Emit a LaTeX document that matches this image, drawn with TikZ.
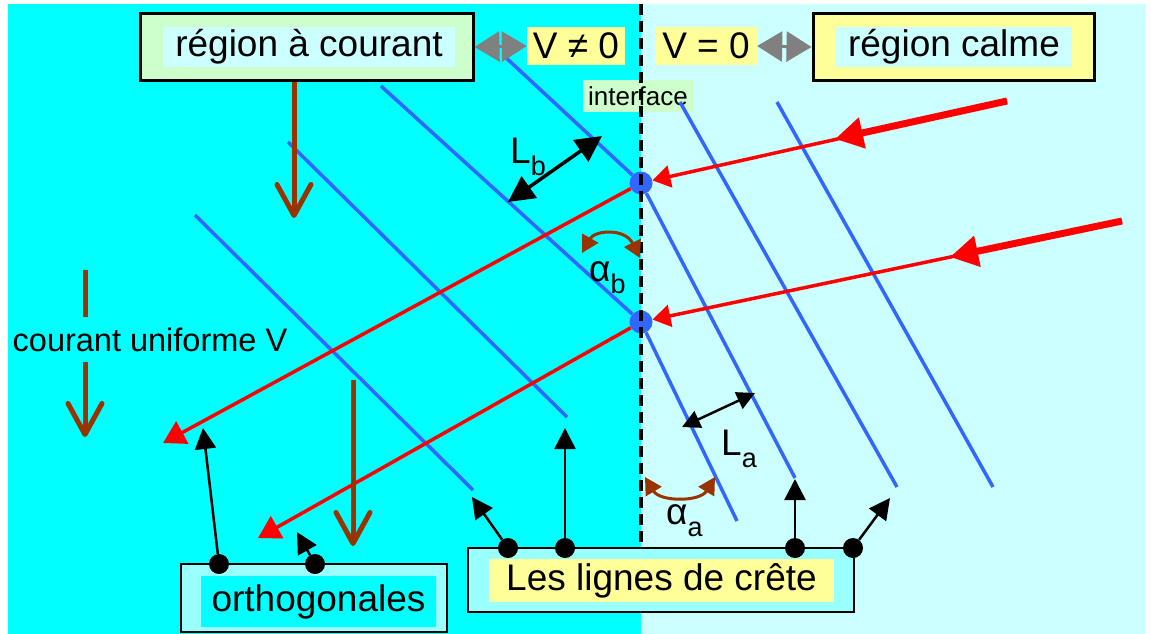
\documentclass[tikz,border=0pt]{standalone}
\usepackage{fontspec}
\setmainfont{Liberation Sans}
\usetikzlibrary{arrows.meta}
\definecolor{flowcyan}{RGB}{0,255,255}
\definecolor{calmcyan}{RGB}{204,255,255}
\definecolor{boxcyan}{RGB}{153,255,255}
\definecolor{palegreen}{RGB}{204,255,204}
\definecolor{paleyellow}{RGB}{255,255,153}
\definecolor{crestblue}{RGB}{51,102,255}
\definecolor{rayred}{RGB}{255,0,0}
\definecolor{flowbrown}{RGB}{153,51,0}
\definecolor{gapgray}{RGB}{128,128,128}
\newcommand{\subidx}[1]{\raisebox{-12pt}{\fontsize{27}{27}\selectfont #1}}

\begin{document}
\begin{tikzpicture}[x=1pt, y=-1pt,
  txt/.style={inner sep=0pt, font=\fontsize{37}{40}\selectfont},
  frame/.style={draw, line width=3pt, inner sep=0pt, minimum height=66pt},
  tag/.style={txt, minimum height=40pt},
  lowbox/.style={draw, line width=2pt, fill=boxcyan, inner sep=0pt},
  crest/.style={crestblue, line width=3.5pt},
  ray/.style={rayred, line width=3.5pt, -{Triangle[length=22pt,width=25pt]}},
  rayin/.style={rayred, line width=3.5pt, -{Triangle[length=18pt,width=22pt]}},
  raytail/.style={rayred, line width=7pt, -{Triangle[length=28pt,width=30pt]}},
  flowline/.style={flowbrown, line width=5pt},
  flow/.style={flowline, -{Straight Barb[length=31pt,width=34pt,round]}},
  arcarrow/.style={flowbrown, line width=3pt,
                   {Triangle[length=17pt,width=18pt]}-{Triangle[length=17pt,width=18pt]}},
  link/.style={line width=2.5pt, -{Triangle[length=21pt,width=21pt]}},
  span/.style={line width=3.5pt, {Triangle[length=26pt,width=26pt]}-{Triangle[length=26pt,width=26pt]}},
  spansmall/.style={line width=2.5pt, {Triangle[length=18pt,width=18pt]}-{Triangle[length=18pt,width=18pt]}},
  gap/.style={gapgray, line width=3pt, {Triangle[length=25pt,width=30pt]}-{Triangle[length=25pt,width=30pt]}},
  dot/.style={circle, fill=black, minimum size=20pt, inner sep=0pt},
  bluedot/.style={circle, fill=crestblue, minimum size=23pt, inner sep=0pt}]

\useasboundingbox (0,0) rectangle (1151,634);
\fill[white] (0,0) rectangle (1151,634);
\fill[flowcyan] (8,4) rectangle (641,634);
\fill[calmcyan] (641,4) rectangle (1146,634);

\node[fill=palegreen, inner sep=0pt, minimum width=110pt, minimum height=32pt,
      font=\fontsize{26}{28}\selectfont] (iface) at (638,96) {interface};

\node[bluedot] (pa) at (641,183) {};
\node[bluedot] (pb) at (641,322) {};

\coordinate (itop) at (641,4);
\coordinate (ibot) at (641,548);
\draw[line width=4.5pt, dash pattern=on 11pt off 6pt] (itop) -- (ibot);

% crest lines
\coordinate (c0) at (503,55);
\coordinate (c1) at (381,86);
\coordinate (c2a) at (288,142);
\coordinate (c2b) at (567,417);
\coordinate (c3a) at (195,215);
\coordinate (c3b) at (473,490);
\coordinate (ra) at (737,521);
\coordinate (rb) at (795,478);
\coordinate (rca) at (680,102);
\coordinate (rcb) at (897,487);
\coordinate (rda) at (777,102);
\coordinate (rdb) at (993,487);
\draw[crest] (c0) -- (pa);
\draw[crest] (c1) -- (pb);
\draw[crest] (c2a) -- (c2b);
\draw[crest] (c3a) -- (c3b);
\draw[crest] (pb) -- (ra);
\draw[crest] (pa) -- (rb);
\draw[crest] (rca) -- (rcb);
\draw[crest] (rda) -- (rdb);

% orthogonals
\coordinate (sa) at (1007,101);
\coordinate (sahead) at (835,139);
\coordinate (sb) at (1122,221);
\coordinate (sbhead) at (950,257);
\coordinate (ta) at (163,443);
\coordinate (tb) at (258,538);
\draw[rayin] (sa) -- (pa);
\draw[raytail] (sa) -- (sahead);
\draw[rayin] (sb) -- (pb);
\draw[raytail] (sb) -- (sbhead);
\draw[ray] (pa) -- (ta);
\draw[ray] (pb) -- (tb);

\node[frame, fill=palegreen, minimum width=333pt] (rac) at (306.5,47) {};
\node[tag, fill=calmcyan, minimum width=292pt] (racl) at (309,47) {région à courant};
\node[tag, fill=paleyellow, minimum width=98pt, minimum height=38pt] (vneq) at (576,46) {V ≠ 0};
\node[tag, fill=paleyellow, minimum width=102pt, minimum height=38pt] (veq) at (706,46) {V = 0};
\node[frame, fill=paleyellow, minimum width=281pt] (rc) at (953.5,47) {};
\node[tag, fill=calmcyan, minimum width=236pt] (rcl) at (954,47) {région calme};
\draw[gap] (rac.east) -- (vneq.west);
\draw[gap] (veq.east) -- (rc.west);

% current
\coordinate (f1b) at (294,218);
\coordinate (f2a) at (85,270);
\coordinate (f2b) at (85,317);
\coordinate (f2c) at (85,362);
\coordinate (f2d) at (85,437);
\coordinate (f3a) at (353,380);
\coordinate (f3b) at (353,546);
\draw[flow] (rac.south -| f1b) -- (f1b);
\draw[flowline] (f2a) -- (f2b);
\draw[flow] (f2c) -- (f2d);
\draw[flow] (f3a) -- (f3b);
\node[inner sep=0pt, font=\fontsize{32.5}{36}\selectfont] (cu) at (150,340) {courant uniforme V};

% wavelengths and angles
\coordinate (lba) at (508,202);
\coordinate (lbb) at (602,136);
\coordinate (laa) at (682,427);
\coordinate (lab) at (755,393);
\draw[span] (lba) -- (lbb);
\draw[spansmall] (laa) -- (lab);
\node[txt, anchor=base west] (lb) at (510,163) {L\subidx{b}};
\node[txt, anchor=base west] (la) at (721,455) {L\subidx{a}};

\coordinate (aba) at (582,253);
\coordinate (abb) at (640,258);
\coordinate (aaa) at (645,477);
\coordinate (aab) at (715,477);
\draw[arcarrow] (aba) .. controls (595,230) and (625,228) .. (abb);
\draw[arcarrow] (aaa) .. controls (660,502) and (700,502) .. (aab);
\node[txt, anchor=base west] (alb) at (589,281) {α\subidx{b}};
\node[txt, anchor=base west] (ala) at (666,524) {α\subidx{a}};

% legends
\node[lowbox, minimum width=266pt, minimum height=68pt] (ortho) at (314,598) {};
\node[tag, fill=flowcyan, minimum width=235pt, minimum height=51pt] (orthol) at (318.5,601.5) {orthogonales};
\node[lowbox, minimum width=386pt, minimum height=64pt] (crete) at (661,580) {};
\node[tag, fill=paleyellow, minimum width=345pt, minimum height=43pt] (cretel) at (661.5,580.5) {Les lignes de crête\hspace{16pt}};

\node[dot] (od1) at (219,564) {};
\node[dot] (od2) at (315,564) {};
\node[dot] (cd1) at (508,548) {};
\node[dot] (cd2) at (565,548) {};
\node[dot] (cd3) at (795,548) {};
\node[dot] (cd4) at (853,548) {};
\coordinate (ot1) at (203,428);
\coordinate (ot2) at (297,532);
\coordinate (ct1) at (472,497);
\coordinate (ct2) at (565,428);
\coordinate (ct3) at (795,479);
\coordinate (ct4) at (890,498);
\draw[link] (od1) -- (ot1);
\draw[link] (od2) -- (ot2);
\draw[link] (cd1) -- (ct1);
\draw[link] (cd2) -- (ct2);
\draw[link] (cd3) -- (ct3);
\draw[link] (cd4) -- (ct4);
\end{tikzpicture}
\end{document}
